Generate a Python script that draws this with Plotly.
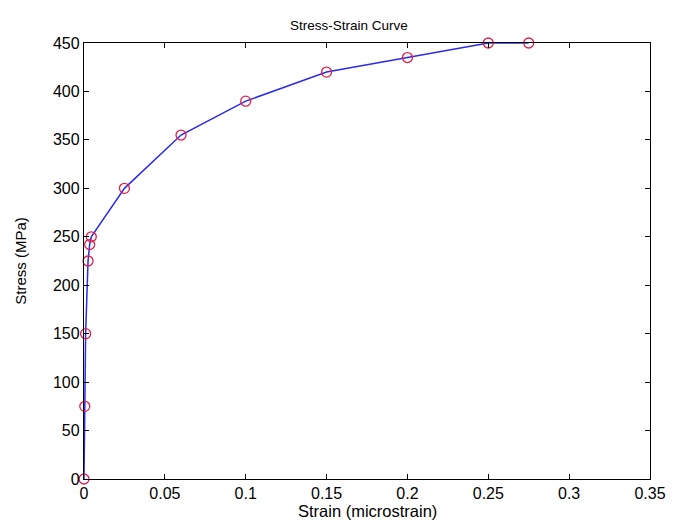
import plotly.graph_objects as go

strain = [0, 0.0005, 0.001, 0.0025, 0.0035, 0.0045, 0.025, 0.06, 0.1, 0.15, 0.2, 0.25, 0.275]
stress = [0, 75, 150, 225, 242, 250, 300, 355, 390, 420, 435, 450, 450]

x_ticks = [0, 0.05, 0.1, 0.15, 0.2, 0.25, 0.3, 0.35]
x_tick_labels = ["0", "0.05", "0.1", "0.15", "0.2", "0.25", "0.3", "0.35"]
y_ticks = [0, 50, 100, 150, 200, 250, 300, 350, 400, 450]

FONT = "Liberation Sans, Arial, sans-serif"
# the page body has an 8px default margin, so the figure is drawn 8px smaller
W, H = 670, 517
M_L, M_R, M_T, M_B = 66, 17, 35, 46
PLOT_H = H - M_T - M_B

fig = go.Figure()
fig.add_trace(go.Scatter(
    x=strain, y=stress, mode="lines",
    line=dict(color="#2a2ae8", width=1.5),
    cliponaxis=False, showlegend=False,
))
fig.add_trace(go.Scatter(
    x=strain, y=stress, mode="markers",
    marker=dict(symbol="circle-open", size=10, color="#e0204a", line=dict(width=1.3)),
    cliponaxis=False, showlegend=False,
))

axis_common = dict(
    showline=True, linecolor="black", linewidth=1.3, mirror="ticks",
    ticks="inside", ticklen=5, tickcolor="black", tickwidth=1,
    showgrid=False, zeroline=False,
    tickfont=dict(family=FONT, size=16, color="black"),
)

fig.update_layout(
    width=W, height=H,
    margin=dict(l=M_L, r=M_R, t=M_T, b=M_B),
    paper_bgcolor="white", plot_bgcolor="white",
    title=dict(text="Stress-Strain Curve", x=0.468, xref="paper", xanchor="center",
               y=1 - 17 / H, yanchor="middle",
               font=dict(family=FONT, size=13.5, color="black")),
    xaxis=dict(range=[0, 0.35], tickvals=x_ticks, ticktext=x_tick_labels,
               **axis_common),
    yaxis=dict(range=[0, 450], tickvals=y_ticks,
               title=dict(text="Stress (MPa)", standoff=22,
                          font=dict(family=FONT, size=15, color="black")),
               **axis_common),
    annotations=[dict(
        text="Strain (microstrain)", xref="paper", yref="paper",
        x=0.5, y=-32 / PLOT_H, xanchor="center", yanchor="middle",
        showarrow=False, font=dict(family=FONT, size=16.5, color="black"),
    )],
)

fig.write_html("out.html")
